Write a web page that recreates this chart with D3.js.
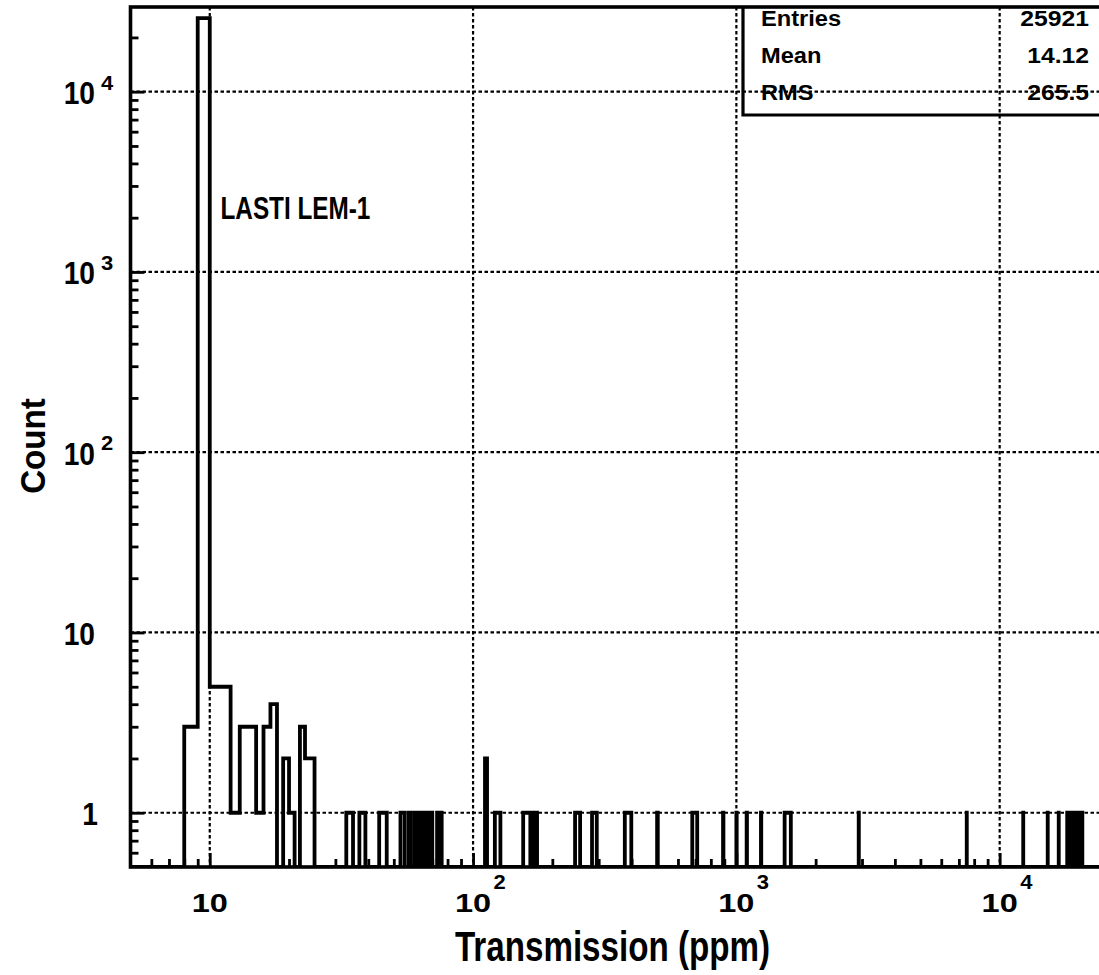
<!DOCTYPE html>
<html>
<head>
<meta charset="utf-8">
<script src="https://cdn.jsdelivr.net/npm/d3@7/dist/d3.min.js"></script>
<style>
  html, body { margin: 0; padding: 0; background: #fff; }
  svg { display: block; }
  text { font-family: "Liberation Sans", Arial, Helvetica, sans-serif; font-weight: bold; fill: #000; }
</style>
</head>
<body>
<svg id="chart" width="1099" height="975"></svg>
<script>
// ---- data ----
// histogram bins: lower edge, upper edge (ppm), count
const binLow   = [8, 9, 10, 11, 12, 13, 14, 15, 16, 17, 19, 20, 22, 23, 24,
                  33, 37, 44, 53, 57, 60, 63, 66, 69, 73, 75,
                  111, 121, 155, 166, 168, 170, 172, 174,
                  244, 283, 377, 500, 680, 890, 1000, 1094, 1240, 1525,
                  2915, 7498, 12285, 15220, 16760,
                  18050, 18400, 18700, 19050, 19350, 19650, 19950, 20300, 20600];
const binHigh  = [9, 10, 11, 12, 13, 14, 15, 16, 17, 18, 20, 21, 23, 24, 25,
                  35, 39, 47, 55, 58, 61, 64, 67, 70, 74, 76,
                  113, 127, 165, 167, 169, 171, 173, 175,
                  255, 295, 399, 503, 710, 893, 1003, 1097, 1243, 1610,
                  2918, 7501, 12290, 15225, 16765,
                  18053, 18403, 18703, 19053, 19353, 19653, 19953, 20303, 20603];
const binCount = [3, 25600, 5, 5, 1, 3, 3, 1, 3, 4, 2, 1, 3, 2, 2,
                  1, 1, 1, 1, 1, 1, 1, 1, 1, 1, 1,
                  2, 1, 1, 1, 1, 1, 1, 1,
                  1, 1, 1, 1, 1, 1, 1, 1, 1, 1,
                  1, 1, 1, 1, 1,
                  1, 1, 1, 1, 1, 1, 1, 1, 1];

const xMajorTicks = [10, 100, 1000, 10000];
const xTickBase   = ["10", "10", "10", "10"];
const xTickExp    = ["", "2", "3", "4"];
const yMajorTicks = [1, 10, 100, 1000, 10000];
const yTickBase   = ["1", "10", "10", "10", "10"];
const yTickExp    = ["", "", "2", "3", "4"];

const statNames  = ["Entries", "Mean", "RMS"];
const statValues = ["25921", "14.12", "265.5"];

const xTitle = "Transmission (ppm)";
const yTitle = "Count";
const annotation = "LASTI LEM-1";

// ---- layout ----
const L = 130.5, R = 1101.3, T = 7, B = 867;
const svg = d3.select("#chart");

const x = d3.scaleLog().domain([5, 24320]).range([L, R]);
const y = d3.scaleLog().domain([0.5, 29500]).range([B, T]);

function minorTicks(domain) {
  const out = [];
  for (let d = -1; d <= 5; d++) {
    for (let k = 2; k <= 9; k++) {
      const v = k * Math.pow(10, d);
      if (v > domain[0] * 1.001 && v < domain[1]) out.push(v);
    }
  }
  return out;
}
const xMinor = minorTicks(x.domain());
const yMinor = minorTicks(y.domain());

// clip
svg.append("defs").append("clipPath").attr("id", "plotclip")
  .append("rect").attr("x", L).attr("y", T).attr("width", R - L).attr("height", B - T);

// grid lines (dotted)
const grid = svg.append("g").attr("stroke", "#000").attr("stroke-width", 2.2)
  .attr("stroke-dasharray", "3.5,2.5").attr("fill", "none");
grid.selectAll("line.gx").data(xMajorTicks).enter().append("line")
  .attr("x1", d => x(d)).attr("x2", d => x(d)).attr("y1", T).attr("y2", B);
grid.selectAll("line.gy").data(yMajorTicks).enter().append("line")
  .attr("y1", d => y(d)).attr("y2", d => y(d)).attr("x1", L).attr("x2", R);

// axes ticks (inward)
function styleAxis(g) {
  g.select(".domain").remove();
  g.selectAll(".tick line").attr("stroke", "#000").attr("stroke-width", 2.8);
  g.selectAll(".tick text").remove();
}
svg.append("g").attr("transform", `translate(0,${B})`)
  .call(d3.axisBottom(x).tickValues(xMinor).tickSize(-8).tickFormat("")).call(styleAxis);
svg.append("g").attr("transform", `translate(0,${B})`)
  .call(d3.axisBottom(x).tickValues(xMajorTicks).tickSize(-14).tickFormat("")).call(styleAxis);
svg.append("g").attr("transform", `translate(${L},0)`)
  .call(d3.axisLeft(y).tickValues(yMinor).tickSize(-8).tickFormat("")).call(styleAxis);
svg.append("g").attr("transform", `translate(${L},0)`)
  .call(d3.axisLeft(y).tickValues(yMajorTicks).tickSize(-14).tickFormat("")).call(styleAxis);

// histogram outline
const segs = binLow.map((lo, i) => ({ lo, hi: binHigh[i], c: binCount[i] }));
const pts = [[L, B]];
segs.forEach((s, i) => {
  const prev = segs[i - 1], next = segs[i + 1];
  if (!prev || prev.hi !== s.lo) pts.push([x(s.lo), B]);
  pts.push([x(s.lo), y(s.c)]);
  pts.push([x(s.hi), y(s.c)]);
  if (!next || next.lo !== s.hi) pts.push([x(s.hi), B]);
});
pts.push([R, B]);
svg.append("path")
  .attr("clip-path", "url(#plotclip)")
  .attr("d", d3.line()(pts))
  .attr("fill", "none").attr("stroke", "#000").attr("stroke-width", 3.8)
  .attr("stroke-linejoin", "miter");

// frame
svg.append("rect").attr("x", L).attr("y", T).attr("width", R - L).attr("height", B - T)
  .attr("fill", "none").attr("stroke", "#000").attr("stroke-width", 3.6);

// stats box
const boxL = 743, boxB = 115;
svg.append("path").attr("d", `M${boxL},${T}V${boxB}H${R + 5}`)
  .attr("fill", "none").attr("stroke", "#000").attr("stroke-width", 3.2);
const rowY = [25.5, 62.5, 99.5];
statNames.forEach((n, i) => {
  svg.append("g").attr("transform", `translate(761,${rowY[i]}) scale(1.1,1)`)
    .append("text").attr("font-size", 21.5).text(n);
  svg.append("g").attr("transform", `translate(1089,${rowY[i]}) scale(1.15,1)`)
    .append("text").attr("font-size", 21.5).attr("text-anchor", "end").text(statValues[i]);
});

// y tick labels
yMajorTicks.forEach((v, i) => {
  const xr = yTickBase[i] === "1" ? 98 : 95;
  svg.append("g").attr("transform", `translate(${xr},${y(v) + 12.5}) scale(0.88,1)`)
    .append("text").attr("font-size", 32).attr("text-anchor", "end").text(yTickBase[i]);
  if (yTickExp[i]) {
    svg.append("g").attr("transform", `translate(101,${y(v) - 2}) scale(1.1,1)`)
      .append("text").attr("font-size", 20).text(yTickExp[i]);
  }
});

// x tick labels
xMajorTicks.forEach((v, i) => {
  svg.append("g").attr("transform", `translate(${x(v)},912) scale(1.25,1)`)
    .append("text").attr("font-size", 26).attr("text-anchor", "middle").text(xTickBase[i]);
  if (xTickExp[i]) {
    svg.append("g").attr("transform", `translate(${x(v) + 20.5},889) scale(1.1,1)`)
      .append("text").attr("font-size", 20).text(xTickExp[i]);
  }
});

// titles
svg.append("g").attr("transform", "translate(612.5,961) scale(0.79,1)")
  .append("text").attr("font-size", 42).attr("text-anchor", "middle").text(xTitle);
svg.append("g").attr("transform", "translate(45,446) rotate(-90) scale(0.92,1)")
  .append("text").attr("font-size", 36).attr("text-anchor", "middle").text(yTitle);

// annotation
svg.append("g").attr("transform", "translate(220.5,219) scale(0.76,1)")
  .append("text").attr("font-size", 32).text(annotation);
</script>
</body>
</html>
